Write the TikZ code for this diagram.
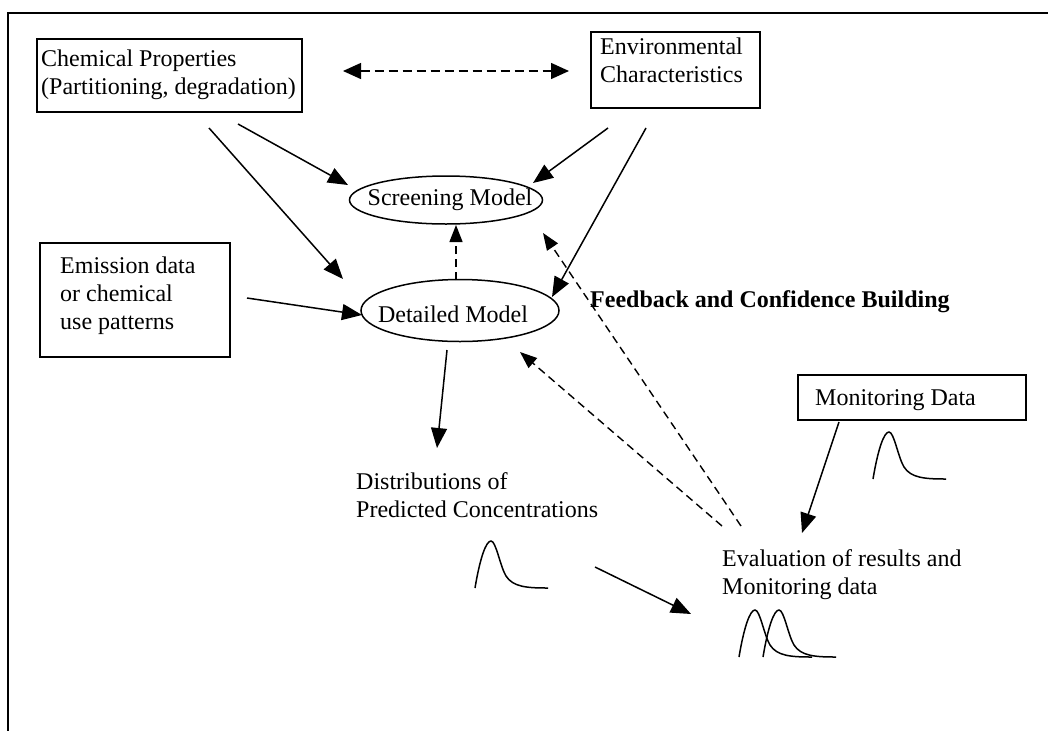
\documentclass[tikz,border=0pt]{standalone}
\usepackage{fontspec}
\setmainfont{Liberation Serif}
\usetikzlibrary{arrows.meta,shapes.geometric}
\newcommand{\mlines}[1]{\begin{tabular}[t]{@{}l@{}}#1\end{tabular}}
\tikzset{
  boxshape/.style={draw, line width=1.8pt, inner sep=0pt, anchor=north west},
  ellshape/.style={draw, ellipse, line width=1.5pt, inner sep=0pt},
  txt/.style={inner sep=0pt, anchor=base west, font=\fontsize{24}{28}\selectfont},
  arr/.style={line width=1.5pt, -{Triangle[length=20pt,width=16pt]}},
  darr/.style={line width=1.4pt, dash pattern=on 8pt off 5pt, -{Triangle[length=17pt,width=13pt]}},
  dtip/.style={line width=1.4pt, dash pattern=on 9pt off 5pt, {Triangle[length=18pt,width=16pt]}-{Triangle[length=18pt,width=16pt]}},
  frameline/.style={line width=2pt},
  pics/distcurve/.style={code={
    \draw[line width=1.5pt] (0,0) .. controls (5,-30) and (11,-47) .. (16,-47)
      .. controls (21,-47) and (25,-22) .. (31,-12)
      .. controls (38,-1) and (52,0) .. (73,0);
  }}
}
\begin{document}
\begin{tikzpicture}[x=1pt,y=-1pt]
\useasboundingbox (0,0) rectangle (1048,731);
% frame
\draw[frameline] (1048,13) -- (8,13) -- (8,731);

% boxes
\node[boxshape, minimum width=265pt, minimum height=73pt] (chem) at (36,38) {};
\node[txt] (chemt) at (41,66) {\mlines{Chemical Properties\\(Partitioning, degradation)}};

\node[boxshape, minimum width=169pt, minimum height=76pt] (env) at (590,31) {};
\node[txt] (envt) at (600,54) {\mlines{Environmental\\Characteristics}};

\node[boxshape, minimum width=190pt, minimum height=114pt] (emis) at (39,242) {};
\node[txt] (emist) at (60,273) {\mlines{Emission data\\or chemical\\use patterns}};

\node[boxshape, minimum width=228pt, minimum height=45pt] (mon) at (797,374) {};
\node[txt] (mont) at (815,405) {Monitoring Data};

% ellipses
\node[ellshape, minimum width=193pt, minimum height=48pt] (scr) at (446,200) {};
\node[txt, anchor=base] (scrt) at (450,205) {Screening Model};
\node[ellshape, minimum width=198pt, minimum height=62pt] (det) at (460,310.5) {};
\node[txt, anchor=base] (dett) at (453,322) {Detailed Model};

% free texts
\node[txt, font=\fontsize{24}{28}\selectfont\bfseries] (fb) at (590,307) {Feedback and Confidence Building};
\node[txt] (dist) at (356,489) {\mlines{Distributions of\\Predicted Concentrations}};
\node[txt] (eval) at (722,566) {\mlines{Evaluation of results and\\Monitoring data}};

% curves
\pic at (475,588) {distcurve};
\pic at (873,479) {distcurve};
\pic at (739,657) {distcurve};
\pic at (763,657) {distcurve};

% connector end points
\coordinate (d1) at (343,71);
\coordinate (d2) at (569,71);
\coordinate (c1s) at (238,124); \coordinate (c1e) at (348,185);
\coordinate (c2s) at (209,128); \coordinate (c2e) at (343,279);
\coordinate (e1s) at (608,128); \coordinate (e1e) at (533,183);
\coordinate (e2s) at (646,128); \coordinate (e2e) at (552,297);
\coordinate (m1s) at (247,298); \coordinate (m1e) at (362,315);
\coordinate (u1s) at (456,280); \coordinate (u1e) at (456,225);
\coordinate (p1s) at (447,350); \coordinate (p1e) at (437,448);
\coordinate (f1s) at (722,526); \coordinate (f1e) at (520,352);
\coordinate (f2s) at (741,526); \coordinate (f2e) at (543,233);
\coordinate (n1s) at (839,422); \coordinate (n1e) at (802,533);
\coordinate (q1s) at (595,567); \coordinate (q1e) at (691,614);

% connectors
\draw[dtip] (d1) -- (d2);
\draw[arr] (c1s) -- (c1e);
\draw[arr] (c2s) -- (c2e);
\draw[arr] (e1s) -- (e1e);
\draw[arr] (e2s) -- (e2e);
\draw[arr] (m1s) -- (m1e);
\draw[darr] (u1s) -- (u1e);
\draw[arr] (p1s) -- (p1e);
\draw[darr] (f1s) -- (f1e);
\draw[darr] (f2s) -- (f2e);
\draw[arr] (n1s) -- (n1e);
\draw[arr] (q1s) -- (q1e);
\end{tikzpicture}
\end{document}
